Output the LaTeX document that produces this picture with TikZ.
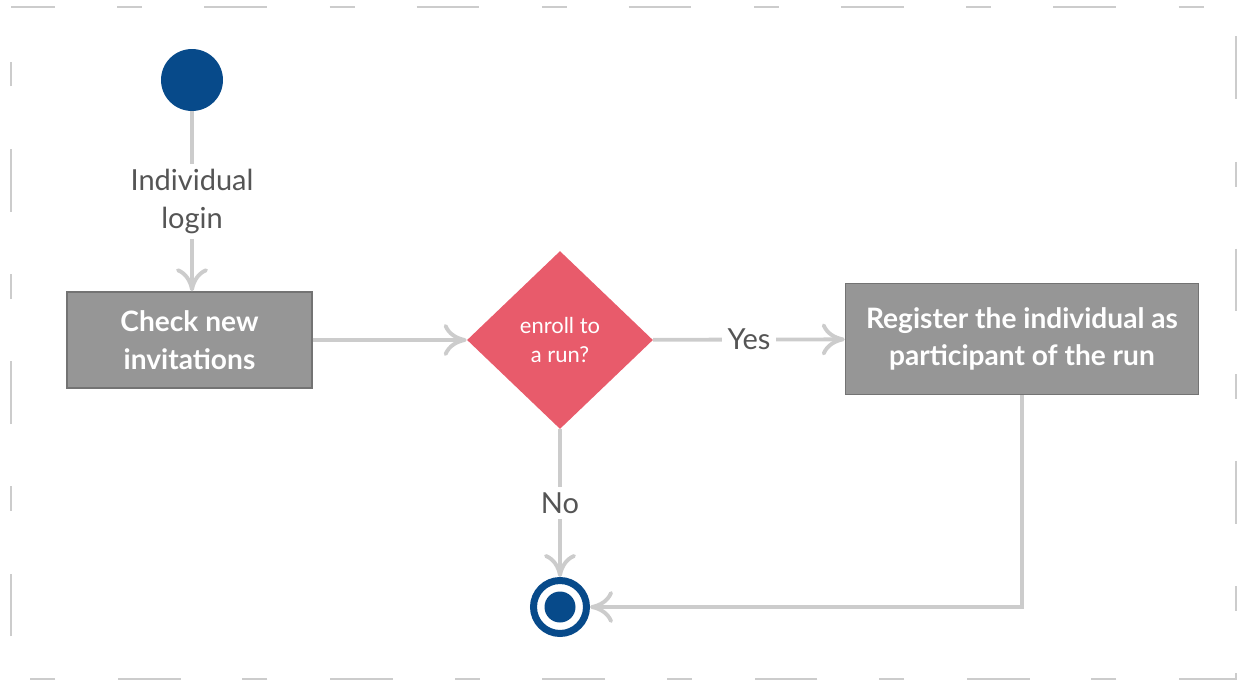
\documentclass[tikz,border=0pt]{standalone}
\usepackage{fontspec}
\setmainfont{Lato}
\usetikzlibrary{shapes.geometric,arrows.meta}
\definecolor{nodeblue}{HTML}{074A8A}
\definecolor{decpink}{HTML}{E85B6B}
\definecolor{boxgray}{HTML}{969696}
\definecolor{boxedge}{HTML}{737373}
\definecolor{linegray}{HTML}{CCCCCC}
\definecolor{textgray}{HTML}{555555}
\tikzset{
    flow/.style={draw=linegray, line width=2.2pt,
        -{Computer Modern Rightarrow[length=0.46cm,width=0.64cm]}},
    actbox/.style={rectangle, fill=boxgray, draw=boxedge, line width=0.85pt,
        text=white, align=center, font=\bfseries\fontsize{16}{21.5}\selectfont},
    lbl/.style={fill=white, text=textgray, align=center, inner sep=3pt,
        font=\fontsize{16.5}{21.5}\selectfont},
}
\begin{document}
\begin{tikzpicture}[x=0.02cm, y=-0.02cm]
    \useasboundingbox (0,0) rectangle (1248,690);
    % frame
    \draw [linegray, line width=1.1pt, dash pattern=on 35.7pt off 35.7pt on 14.2pt off 35.2pt, dash phase=10.8pt]
        (11,7) -- (1236,7) -- (1236,679) -- (11,679) -- cycle;
    % nodes
    \node [circle, fill=nodeblue, minimum size=1.24cm, inner sep=0] (start) at (192, 80) {};
    \node [actbox, minimum width=4.9cm, minimum height=1.92cm] (check) at (189.5, 340) {Check new\\invitations};
    \node [diamond, fill=decpink, minimum width=3.72cm, minimum height=3.56cm, inner sep=0,
        text=white, align=center, font=\fontsize{12.5}{16.5}\selectfont] (enroll) at (560, 340) {enroll to\\a run?};
    \node [actbox, minimum width=7.06cm, minimum height=2.22cm] (register) at (1022, 339) {Register the individual as\\participant of the run};
    \node [circle, draw=nodeblue, line width=0.14cm, fill=white, minimum size=1.06cm, inner sep=0,
        path picture={\fill[nodeblue] (path picture bounding box.center) circle (0.31cm);}] (finish) at (560, 607) {};
    % edges
    \draw [flow] (start) -- node [lbl] {Individual\\login} (start |- check.north);
    \draw [flow] (check) -- (enroll);
    \draw [flow] (enroll) -- node [lbl] {Yes} (register);
    \draw [flow] (enroll) -- node [lbl] {No} (finish);
    \draw [flow] (register.south) |- (finish);
\end{tikzpicture}
\end{document}
